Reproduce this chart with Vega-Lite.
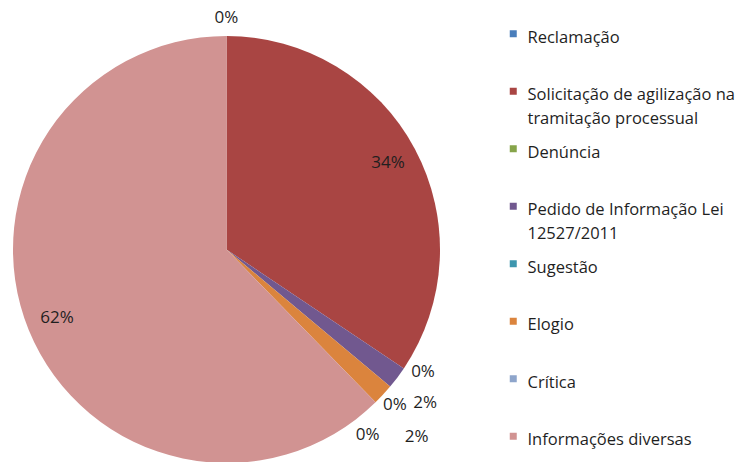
{
  "$schema": "https://vega.github.io/schema/vega-lite/v6.json",
  "width": 453,
  "height": 426,
  "autosize": {"type": "none"},
  "padding": {"left": 0, "top": 36.5, "right": 284, "bottom": 0},
  "background": "white",
  "config": {
    "view": {"stroke": null},
    "style": {"guide-label": {"lineHeight": 24, "dy": -4}}
  },
  "data": {
    "values": [
      {"idx": 1, "cat": "Reclamação", "value": 0},
      {"idx": 2, "cat": "Solicitação de agilização na tramitação processual", "value": 0.344},
      {"idx": 3, "cat": "Denúncia", "value": 0},
      {"idx": 4, "cat": "Pedido de Informação Lei 12527/2011", "value": 0.017},
      {"idx": 5, "cat": "Sugestão", "value": 0},
      {"idx": 6, "cat": "Elogio", "value": 0.016},
      {"idx": 7, "cat": "Crítica", "value": 0},
      {"idx": 8, "cat": "Informações diversas", "value": 0.623}
    ]
  },
  "encoding": {
    "theta": {"field": "value", "type": "quantitative", "stack": true},
    "order": {"field": "idx", "type": "quantitative"}
  },
  "layer": [
    {
      "mark": {"type": "arc", "outerRadius": 213.5},
      "encoding": {
        "color": {
          "field": "cat",
          "type": "nominal",
          "scale": {
            "domain": ["Reclamação", "Solicitação de agilização na tramitação processual", "Denúncia", "Pedido de Informação Lei 12527/2011", "Sugestão", "Elogio", "Crítica", "Informações diversas"],
            "range": ["#4A7EBB", "#A94543", "#86A44A", "#71588F", "#3D96AE", "#DB843D", "#8EA5CB", "#D19392"]
          },
          "legend": {
            "title": null,
            "orient": "none",
            "legendX": 505,
            "legendY": -11,
            "padding": 0,
            "symbolType": "square",
            "symbolSize": 49,
            "symbolStrokeWidth": 0,
            "labelFont": "Open Sans",
            "labelFontSize": 16.5,
            "labelColor": "#1f1f1f",
            "labelLimit": 260,
            "labelOffset": 6,
            "labelBaseline": "top",
            "gridAlign": "all",
            "rowPadding": 12.5,
            "labelExpr": "datum.label == 'Solicitação de agilização na tramitação processual' ? ['Solicitação de agilização na', 'tramitação processual'] : datum.label == 'Pedido de Informação Lei 12527/2011' ? ['Pedido de Informação Lei', '12527/2011'] : datum.label"
          }
        }
      }
    },
    {
      "mark": {"type": "text", "font": "Open Sans", "fontSize": 17, "color": "#1f1f1f", "radius": 183},
      "encoding": {
        "detail": {"field": "cat", "type": "nominal"},
        "text": {"condition": {"test": "datum.value >= 0.1", "field": "value", "type": "quantitative", "format": ".0%"}, "value": ""}
      }
    },
    {
      "mark": {"type": "text", "font": "Open Sans", "fontSize": 17, "color": "#1f1f1f", "radius": 231.5},
      "encoding": {
        "detail": {"field": "cat", "type": "nominal"},
        "text": {"condition": {"test": "datum.idx == 1", "field": "value", "type": "quantitative", "format": ".0%"}, "value": ""}
      }
    },
    {
      "mark": {"type": "text", "font": "Open Sans", "fontSize": 17, "color": "#1f1f1f", "radius": 231.6, "thetaOffset": -0.033},
      "encoding": {
        "detail": {"field": "cat", "type": "nominal"},
        "text": {"condition": {"test": "datum.idx == 3", "field": "value", "type": "quantitative", "format": ".0%"}, "value": ""}
      }
    },
    {
      "mark": {"type": "text", "font": "Open Sans", "fontSize": 17, "color": "#1f1f1f", "radius": 251, "thetaOffset": 0.014},
      "encoding": {
        "detail": {"field": "cat", "type": "nominal"},
        "text": {"condition": {"test": "datum.idx == 4", "field": "value", "type": "quantitative", "format": ".0%"}, "value": ""}
      }
    },
    {
      "mark": {"type": "text", "font": "Open Sans", "fontSize": 17, "color": "#1f1f1f", "radius": 229, "thetaOffset": 0.047},
      "encoding": {
        "detail": {"field": "cat", "type": "nominal"},
        "text": {"condition": {"test": "datum.idx == 5", "field": "value", "type": "quantitative", "format": ".0%"}, "value": ""}
      }
    },
    {
      "mark": {"type": "text", "font": "Open Sans", "fontSize": 17, "color": "#1f1f1f", "radius": 267, "thetaOffset": 0.03},
      "encoding": {
        "detail": {"field": "cat", "type": "nominal"},
        "text": {"condition": {"test": "datum.idx == 6", "field": "value", "type": "quantitative", "format": ".0%"}, "value": ""}
      }
    },
    {
      "mark": {"type": "text", "font": "Open Sans", "fontSize": 17, "color": "#1f1f1f", "radius": 233, "thetaOffset": 0.122},
      "encoding": {
        "detail": {"field": "cat", "type": "nominal"},
        "text": {"condition": {"test": "datum.idx == 7", "field": "value", "type": "quantitative", "format": ".0%"}, "value": ""}
      }
    }
  ]
}
